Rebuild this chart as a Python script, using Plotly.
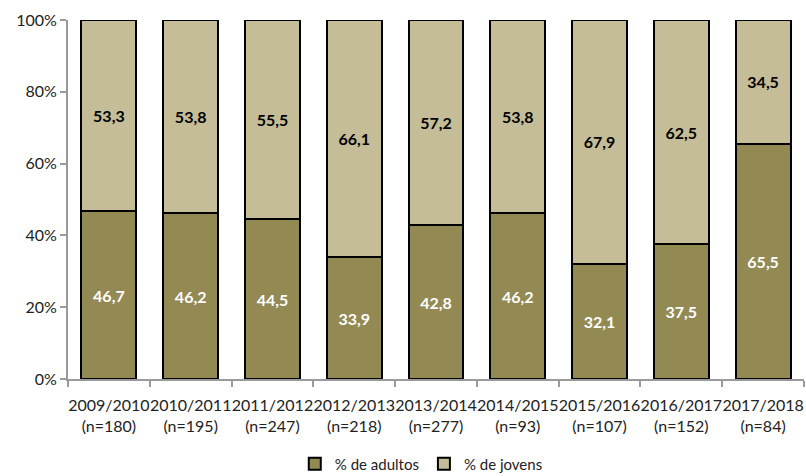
import plotly.graph_objects as go

seasons = ["2009/2010", "2010/2011", "2011/2012", "2012/2013", "2013/2014",
           "2014/2015", "2015/2016", "2016/2017", "2017/2018"]
sample_sizes = [180, 195, 247, 218, 277, 93, 107, 152, 84]
adultos = [46.7, 46.2, 44.5, 33.9, 42.8, 46.2, 32.1, 37.5, 65.5]
jovens = [53.3, 53.8, 55.5, 66.1, 57.2, 53.8, 67.9, 62.5, 34.5]

categories = [f"{s}<br>(n={n})" for s, n in zip(seasons, sample_sizes)]
font_family = "Lato, 'Open Sans', sans-serif"

def fmt(v):
    return f"{v:.1f}".replace(".", ",")

fig = go.Figure()
fig.add_trace(go.Bar(
    x=categories, y=adultos, name="% de adultos",
    marker=dict(color="#938953", line=dict(color="black", width=2)),
    text=[fmt(v) for v in adultos], textposition="inside",
    insidetextanchor="middle",
    textfont=dict(color="white", size=16, family=font_family, weight="bold"),
))
fig.add_trace(go.Bar(
    x=categories, y=jovens, name="% de jovens",
    marker=dict(color="#C4BD97", line=dict(color="black", width=2)),
    text=[fmt(v) for v in jovens], textposition="inside",
    insidetextanchor="middle",
    textfont=dict(color="black", size=16, family=font_family, weight="bold"),
))

fig.update_layout(
    barmode="stack",
    bargap=0.33,
    width=806, height=476,
    margin=dict(l=68, r=2, t=20, b=97, autoexpand=False),
    plot_bgcolor="white", paper_bgcolor="white",
    font=dict(family=font_family, size=15, color="#222"),
    legend=dict(orientation="h", x=0.48, xanchor="center",
                yref="container", y=0.025, yanchor="middle",
                font=dict(size=15), traceorder="normal", itemwidth=30),
    showlegend=True,
)
fig.update_yaxes(
    range=[0, 100], tickvals=[0, 20, 40, 60, 80, 100],
    ticktext=["0%", "20%", "40%", "60%", "80%", "100%"],
    showgrid=False, zeroline=False,
    showline=True, linecolor="#9a9a9a", linewidth=2,
    ticks="outside", ticklen=6, tickcolor="#9a9a9a", tickwidth=1.5,
    tickfont=dict(size=16),
)
fig.update_xaxes(
    showgrid=False, showline=True, linecolor="#9a9a9a", linewidth=2,
    ticks="outside", tickson="boundaries", ticklen=6, tickcolor="#9a9a9a",
    tickwidth=1.5, tickfont=dict(size=16), tickangle=0, ticklabelstandoff=11,
)

fig.write_html("out.html")
